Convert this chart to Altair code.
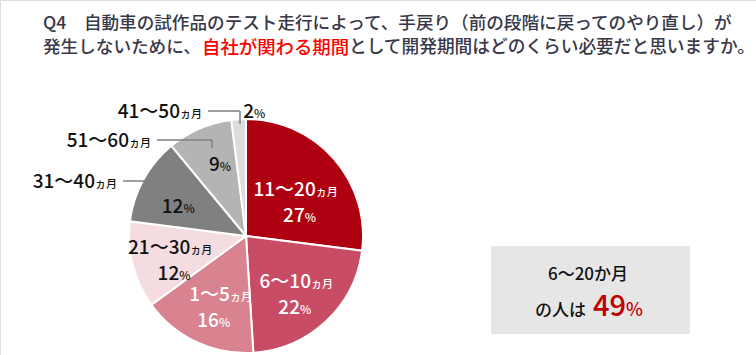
import altair as alt
import pandas as pd

# ---------------- data ----------------
categories = ["11〜20", "6〜10", "1〜5", "21〜30", "31〜40", "51〜60", "41〜50"]
values = [27, 22, 16, 12, 12, 9, 2]
unit = "ヵ月"
pct_sign = "%"
inside_named = ["11〜20", "6〜10", "1〜5", "21〜30"]
inside_pct_only = ["31〜40", "51〜60"]
white_text = ["11〜20", "6〜10", "1〜5"]
slice_colors = ["#AF0012", "#C84C64", "#D98290", "#F5DCE1", "#808080", "#B4B4B4", "#DCDCDC"]

title_line1 = "Q4　自動車の試作品のテスト走行によって、手戻り（前の段階に戻ってのやり直し）が"
title_line2 = ["発生しないために、", "自社が関わる期間", "として開発期間はどのくらい必要だと思いますか。"]
title_line2_colors = ["#383848", "#FF0000", "#383848"]

box_line1 = "6〜20か月"
box_prefix = "の人は"
box_value = 49

# ---------------- layout ----------------
FONT = "'Noto Sans CJK JP Medium', 'Noto Sans CJK JP'"
CX, CY, R = 246, 236, 117
LABEL_R = 73
# extra vertical nudge of inside labels, per slice (layout only)
nudge = {"11〜20": 9, "6〜10": 0, "1〜5": 0, "21〜30": 1, "31〜40": 2, "51〜60": -7}

df = pd.DataFrame({"cat": categories, "value": values, "idx": list(range(len(values)))})
df["pct"] = df["value"].astype(str)

one = pd.DataFrame({"a": [0]})

theta_scale = alt.Scale(domain=[0, 100])

arc = alt.Chart(df).mark_arc(outerRadius=R, stroke="white", strokeWidth=2).encode(
    theta=alt.Theta("value:Q", stack=True, scale=theta_scale),
    order=alt.Order("idx:Q"),
    color=alt.Color("cat:N", scale=alt.Scale(domain=categories, range=slice_colors), legend=None),
    x=alt.value(CX),
    y=alt.value(CY),
)

base = (
    alt.Chart(df)
    .transform_window(cum="sum(value)", sort=[alt.SortField("idx")], frame=[None, 0])
    .transform_calculate(mid="datum.cum - datum.value / 2")
)

txt_color = alt.condition(
    alt.FieldOneOfPredicate(field="cat", oneOf=white_text), alt.value("white"), alt.value("#111111")
)


def polar_text(cat, field, size, align, dx, dy, radius=LABEL_R):
    return (
        base.transform_filter(alt.FieldEqualPredicate(field="cat", equal=cat))
        .mark_text(font=FONT, fontSize=size, align=align, baseline="alphabetic",
                   dx=dx, dy=dy, radius=radius)
        .encode(
            theta=alt.Theta("mid:Q", scale=theta_scale),
            text=alt.Text(field + ":N") if not field.startswith("=") else alt.value(field[1:]),
            color=txt_color,
            x=alt.value(CX),
            y=alt.value(CY),
        )
    )


layers = [arc]
OFF = 5
for cat in inside_named:
    n = nudge[cat] + OFF
    layers += [
        polar_text(cat, "cat", 19, "right", 15, -13 + 7 + n),
        polar_text(cat, "=" + unit, 11, "left", 15, -13 + 7 + n),
        polar_text(cat, "pct", 19, "right", 4, 13 + 7 + n),
        polar_text(cat, "=" + pct_sign, 12, "left", 4, 13 + 7 + n),
    ]
for cat in inside_pct_only:
    n = nudge[cat] + OFF
    layers += [
        polar_text(cat, "pct", 19, "right", 4, 7 + n, radius=LABEL_R + 3),
        polar_text(cat, "=" + pct_sign, 12, "left", 4, 7 + n, radius=LABEL_R + 3),
    ]


def ann_text(text, x, y, size, align, color="#111111", baseline="alphabetic"):
    return alt.Chart(one).mark_text(
        font=FONT, fontSize=size, align=align, baseline=baseline, color=color
    ).encode(text=alt.value(text), x=alt.value(x), y=alt.value(y))


def hrule(x1, x2, y):
    return alt.Chart(one).mark_rule(color="#7F7F7F", strokeWidth=1.5).encode(
        x=alt.value(x1), x2=alt.value(x2), y=alt.value(y)
    )


def vrule(x, y1, y2):
    return alt.Chart(one).mark_rule(color="#7F7F7F", strokeWidth=1.5).encode(
        x=alt.value(x), y=alt.value(y1), y2=alt.value(y2)
    )


# outside labels with leader lines: (category, label right end, label y, line end x, line bottom y)
outside = [("41〜50", 202, 111, 240, 124), ("51〜60", 151, 140, 212, 148), ("31〜40", 117, 181, 177, 192)]
for cat, xr, yl, xe, yb in outside:
    layers.append(ann_text(cat, xr - 22, yl + 7, 19, "right"))
    layers.append(ann_text(unit, xr - 22, yl + 7, 11, "left"))
    layers.append(hrule(xr + 6, xe, yl))
    layers.append(vrule(xe, yl, yb))

# 2% label outside the small slice
small = values[categories.index("41〜50")]
layers.append(ann_text(str(small), 254, 118, 19, "right"))
layers.append(ann_text(pct_sign, 254, 118, 12, "left"))

# title
layers.append(ann_text(title_line1, 43, 24, 17.6, "left", color="#383848", baseline="middle"))
for seg, col, xs, fs in zip(title_line2, title_line2_colors, [43, 202, 349], [17.6, 18.4, 17.7]):
    layers.append(ann_text(seg, xs, 48, fs, "left", color=col, baseline="middle"))

# summary box
layers.append(
    alt.Chart(one).mark_rect(color="#E6E6E6").encode(
        x=alt.value(491), x2=alt.value(690), y=alt.value(246), y2=alt.value(334)
    )
)
layers.append(ann_text(box_line1, 588, 280, 17, "center"))
layers.append(ann_text(box_prefix, 586, 316, 17, "right"))
layers.append(ann_text(str(box_value), 593, 316, 29, "left", color="#C00000"))
layers.append(ann_text(pct_sign, 626, 316, 18, "left", color="#C00000"))

chart = (
    alt.layer(*layers)
    .properties(width=756, height=355, padding=0, autosize=alt.AutoSizeParams(type="none"))
    .configure_view(stroke=None)
    .configure(background="white")
)

chart.save("out.html", embed_options={"renderer": "svg", "actions": False})
